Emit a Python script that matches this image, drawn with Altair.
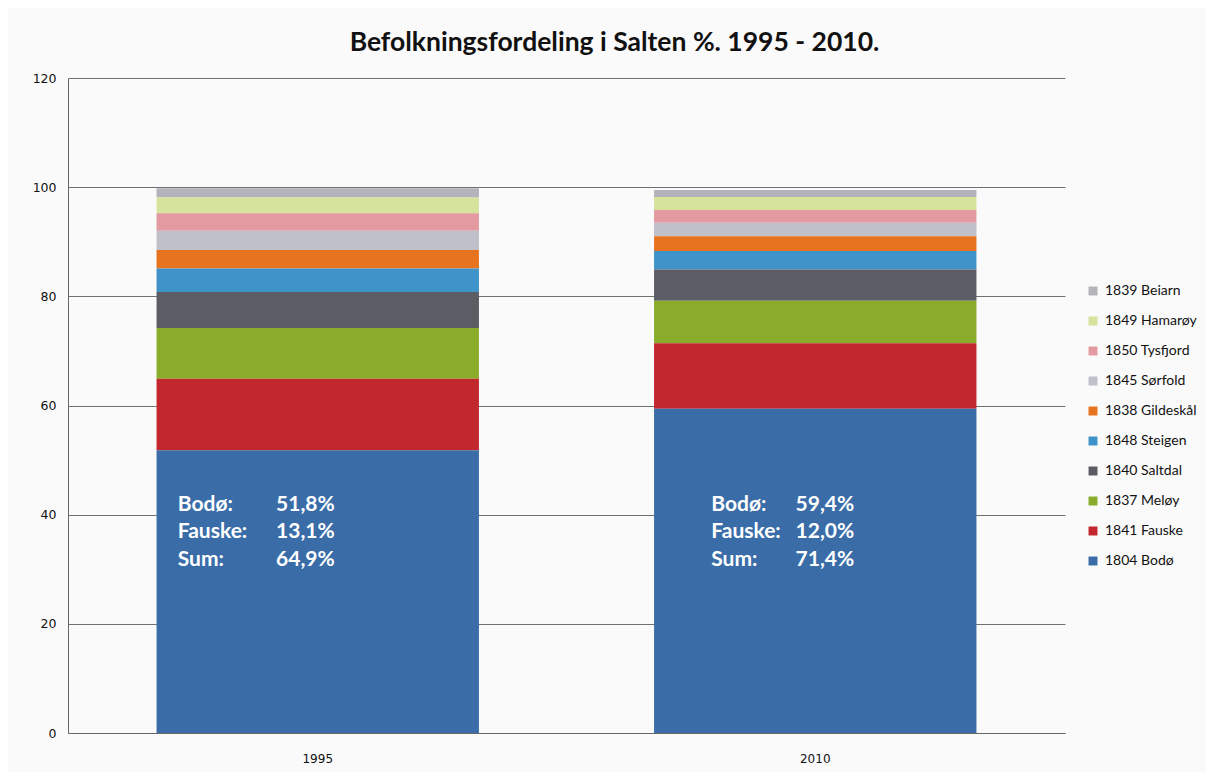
import altair as alt
import pandas as pd

years = ["1995", "2010"]
municipalities = ["1839 Beiarn", "1849 Hamarøy", "1850 Tysfjord", "1845 Sørfold",
                  "1838 Gildeskål", "1848 Steigen", "1840 Saltdal", "1837 Meløy",
                  "1841 Fauske", "1804 Bodø"]
colors = ["#b4b2ba", "#d6e39c", "#e39aa0", "#bfc0ca", "#e8731e", "#3f93c9",
          "#5b5c64", "#8bac2a", "#c1272d", "#3a6da8"]
share_1995 = [1.7, 2.9, 3.2, 3.5, 3.4, 4.3, 6.6, 9.3, 13.1, 51.8]
share_2010 = [1.3, 2.4, 2.3, 2.5, 2.7, 3.4, 5.7, 7.8, 12.0, 59.4]

label_names = ["Bodø:", "Fauske:", "Sum:"]
label_1995 = ["51,8%", "13,1%", "64,9%"]
label_2010 = ["59,4%", "12,0%", "71,4%"]
label_ypos = [41.7, 36.8, 31.7]

rows = []
n = len(municipalities)
for i, m in enumerate(municipalities):
    rows.append({"year": "1995", "kommune": m, "value": share_1995[i], "rank": n - i})
    rows.append({"year": "2010", "kommune": m, "value": share_2010[i], "rank": n - i})
df = pd.DataFrame(rows)

lab_rows = []
for j in range(3):
    lab_rows.append({"year": "1995", "name": label_names[j], "val": label_1995[j], "ypos": label_ypos[j]})
    lab_rows.append({"year": "2010", "name": label_names[j], "val": label_2010[j], "ypos": label_ypos[j]})
lab = pd.DataFrame(lab_rows)

FONT = "Lato"

xenc = alt.X("year:N", title=None, sort=years,
             scale=alt.Scale(paddingInner=0.352, paddingOuter=0.178),
             axis=alt.Axis(labelAngle=0, ticks=False, labelPadding=20, labelFont="DejaVu Sans",
                           labelFontSize=12, labelColor="#111", domain=True, domainColor="#666"))

bars = alt.Chart(df).mark_bar().encode(
    x=xenc,
    y=alt.Y("value:Q", title=None, stack="zero",
            scale=alt.Scale(domain=[0, 120], nice=False),
            axis=alt.Axis(values=[0, 20, 40, 60, 80, 100, 120], ticks=False, labelPadding=12,
                          labelFont="DejaVu Sans", labelFontSize=12.5, labelColor="#111",
                          grid=True, gridColor="#707070", gridWidth=1, domainColor="#666")),
    color=alt.Color("kommune:N", sort=municipalities,
                    scale=alt.Scale(domain=municipalities, range=colors),
                    legend=alt.Legend(title=None, orient="none", legendX=1018, legendY=206,
                                      symbolType="square", symbolSize=80, symbolStrokeWidth=0,
                                      labelFont=FONT, labelFontSize=14, labelColor="#111",
                                      rowPadding=16, labelOffset=5, padding=0)),
    order=alt.Order("rank:Q", sort="ascending"),
)

def text_layer(year, field, align, dx):
    return alt.Chart(lab).transform_filter(alt.datum.year == year).mark_text(
        align=align, baseline="middle", dx=dx, font=FONT, fontWeight="bold",
        fontSize=21, color="white"
    ).encode(x=alt.X("year:N", sort=years), y=alt.Y("ypos:Q"), text=f"{field}:N")

texts = (text_layer("1995", "name", "left", -140) + text_layer("1995", "val", "right", 17)
         + text_layer("2010", "name", "left", -104) + text_layer("2010", "val", "right", 39))

chart = alt.layer(bars, texts).properties(
    width=997, height=655,
    autosize=alt.AutoSizeParams(type="none"),
    padding={"left": 60, "top": 70, "right": 141, "bottom": 39},
    background="#fafafa",
    title=alt.TitleParams("Befolkningsfordeling i Salten %. 1995 - 2010.", font=FONT,
                          fontSize=26.5, fontWeight="bold", color="#111", anchor="middle",
                          dx=48, offset=16),
).configure_view(stroke=None)

chart.save("out.html", embed_options={"renderer": "svg", "actions": False})
